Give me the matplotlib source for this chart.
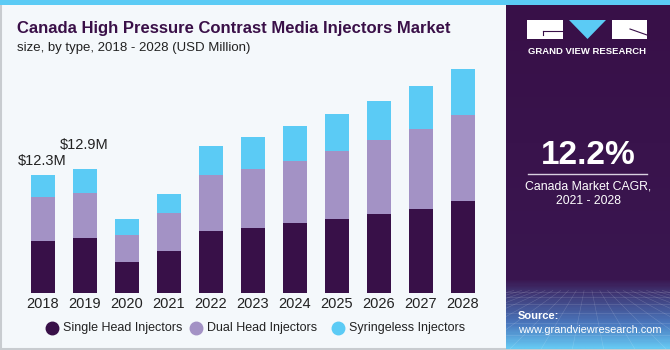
import matplotlib.pyplot as plt
import numpy as np
from matplotlib.colors import LinearSegmentedColormap
from matplotlib.patches import Rectangle, Polygon
from matplotlib.lines import Line2D

plt.rcParams["font.family"] = ["Liberation Sans", "DejaVu Sans"]

years = ["2018", "2019", "2020", "2021", "2022", "2023", "2024", "2025", "2026", "2027", "2028"]
single_head = [5.42, 5.70, 3.20, 4.41, 6.50, 6.81, 7.30, 7.72, 8.24, 8.76, 9.62]
dual_head = [4.56, 4.75, 2.85, 3.90, 5.84, 6.15, 6.50, 7.12, 7.72, 8.34, 8.97]
syringeless = [2.33, 2.44, 1.64, 2.04, 2.99, 3.31, 3.65, 3.83, 4.07, 4.48, 4.73]
series_names = ["Single Head Injectors", "Dual Head Injectors", "Syringeless Injectors"]
total_labels = {0: "$12.3M", 1: "$12.9M"}

DARK = "#381048"
LILAC = "#A392C5"
CYAN = "#5BCBF5"
BG = "#F4F8FB"

W, H = 670, 350
fig = plt.figure(figsize=(6.7, 3.5), dpi=100, facecolor=BG)


def px(x, y):
    # pixel coords (top-left origin) -> figure fraction
    return x / W, 1 - y / H


# frame, top strip
fig.patches.append(Rectangle((0.001, 0.002), 0.998, 0.996, transform=fig.transFigure,
                             facecolor="none", edgecolor="#C8CCD0", lw=1.5, zorder=-2))
fig.patches.append(Rectangle(px(0, 5), 1, 5 / H, transform=fig.transFigure,
                             facecolor=CYAN, edgecolor="none", zorder=-1))

# right panel
panel = fig.add_axes([506 / W, 1 / H, (670 - 506) / W, 344 / H])
grad = LinearSegmentedColormap.from_list(
    "p", [(0, "#381048"), (0.80, "#3A1650"), (0.83, "#3E2E6A"),
          (0.93, "#4A78BE"), (1, "#66C8F2")])
panel.imshow(np.linspace(0, 1, 300).reshape(-1, 1), aspect="auto", cmap=grad,
             extent=[0, 1, 0, 1])
# faint perspective grid in the lower part
for k in np.linspace(-1.5, 2.5, 22):
    panel.plot([0.5 + (k - 0.5) * 0.25, k], [0.17, 0.0], color="white",
               lw=0.4, alpha=0.18)
for yy in [0.165, 0.15, 0.13, 0.105, 0.075, 0.04]:
    panel.axhline(yy, color="white", lw=0.4, alpha=0.18)
panel.set_xlim(0, 1)
panel.set_ylim(0, 1)
panel.axis("off")

# logo
fig.patches.append(Rectangle(px(527, 39), 36 / W, 19 / H, transform=fig.transFigure,
                             facecolor="white", edgecolor="none", zorder=3))
fig.patches.append(Rectangle(px(612, 39), 35 / W, 19 / H, transform=fig.transFigure,
                             facecolor="white", edgecolor="none", zorder=3))
fig.patches.append(Polygon([px(569, 20), px(606, 20), px(587.5, 39)], closed=True,
                           transform=fig.transFigure, facecolor=CYAN,
                           edgecolor="none", zorder=3))
fig.lines.append(Line2D([543 / W, 563 / W], [1 - 31 / H, 1 - 31 / H],
                        transform=fig.transFigure, color=DARK, lw=0.8, zorder=4))
fig.lines.append(Line2D([543 / W, 543 / W], [1 - 31 / H, 1 - 35 / H],
                        transform=fig.transFigure, color=DARK, lw=0.8, zorder=4))
fig.lines.append(Line2D([630 / W, 647 / W], [1 - 29 / H, 1 - 35 / H],
                        transform=fig.transFigure, color=DARK, lw=0.8, zorder=4))
fig.text(*px(587, 51), "GRAND VIEW RESEARCH", color="white", fontsize=6.8,
         fontweight="bold", ha="center", va="center", zorder=4)

fig.text(*px(588, 155), "12.2%", color="white", fontsize=24, fontweight="bold",
         ha="center", va="center", zorder=4)
fig.lines.append(Line2D([528 / W, 647 / W], [1 - 173.5 / H, 1 - 173.5 / H],
                        transform=fig.transFigure, color="#D8D0E0", lw=1, zorder=4))
fig.text(*px(588, 186), "Canada Market CAGR,", color="white", fontsize=8.8,
         ha="center", va="center", zorder=4)
fig.text(*px(588, 201), "2021 - 2028", color="white", fontsize=8.8,
         ha="center", va="center", zorder=4)
fig.text(*px(518, 316), "Source:", color="white", fontsize=8,
         fontweight="bold", ha="left", va="center", zorder=4)
fig.text(*px(518, 330), "www.grandviewresearch.com", color="white", fontsize=7.9,
         ha="left", va="center", zorder=4)

# titles
fig.text(*px(17, 29), "Canada High Pressure Contrast Media Injectors Market",
         color="#3A1048", fontsize=12, fontweight="bold", ha="left", va="center")
fig.text(*px(17, 48), "size, by type, 2018 - 2028 (USD Million)", color="#222222",
         fontsize=9.5, ha="left", va="center")

# chart
ax = fig.add_axes([10 / W, 57 / H, 490 / W, 233 / H])
ax.set_facecolor("none")
x = np.arange(len(years))
bw = 0.57
colors = [DARK, LILAC, CYAN]
ax.bar(x, single_head, bw, color=DARK)
ax.bar(x, dual_head, bw, bottom=single_head, color=LILAC)
bottom2 = np.array(single_head) + np.array(dual_head)
ax.bar(x, syringeless, bw, bottom=bottom2, color=CYAN)

totals = bottom2 + np.array(syringeless)
label_gap = {0: 1.5, 1: 2.55}
for i, lab in total_labels.items():
    ax.text(x[i] - 0.03, totals[i] + label_gap[i], lab, ha="center", va="center",
            fontsize=10.5, color="#222222")

ax.set_xlim(-0.786, 10.881)
ax.set_ylim(0, 24.3)
ax.set_xticks(x)
ax.set_xticklabels(years, fontsize=10.5, color="#222222")
ax.tick_params(axis="x", length=0, pad=3)
ax.set_yticks([])
for s in ax.spines.values():
    s.set_visible(False)

# legend
for xm, c, name in zip([52, 196, 338], colors, series_names):
    fig.lines.append(Line2D([xm / W], [1 - 328 / H], marker="o", markersize=9,
                            color=c, transform=fig.transFigure, ls="none"))
    fig.text(*px(xm + 11, 328), name, fontsize=9, color="#222222",
             ha="left", va="center")

fig.savefig("out.png", dpi=100, facecolor=BG)
